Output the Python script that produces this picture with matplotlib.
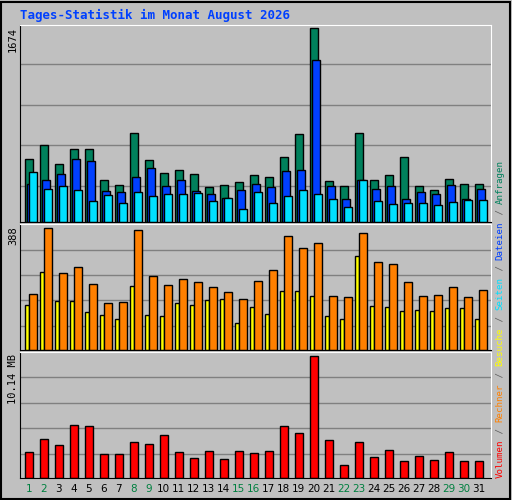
import numpy as np
import matplotlib.pyplot as plt

days = list(range(1, 32))
weekend = [1, 2, 8, 9, 15, 16, 22, 23, 29, 30]

anfragen = [540, 663, 497, 628, 628, 358, 320, 768, 532, 419, 445, 410, 306, 323, 349, 402, 384, 559, 760, 1674, 355, 311, 768, 363, 402, 559, 311, 276, 372, 329, 329]
dateien = [329, 363, 410, 541, 524, 268, 259, 390, 469, 311, 363, 268, 242, 207, 276, 329, 303, 443, 452, 1395, 311, 198, 363, 285, 311, 198, 259, 242, 320, 198, 285]
seiten = [433, 285, 311, 276, 180, 233, 163, 259, 224, 242, 242, 250, 180, 207, 111, 259, 163, 224, 276, 242, 198, 128, 363, 180, 154, 163, 163, 146, 172, 189, 189]
rechner = [178, 388, 246, 265, 210, 149, 152, 382, 236, 207, 227, 217, 201, 185, 162, 221, 256, 362, 326, 342, 172, 168, 372, 279, 275, 217, 172, 175, 201, 168, 190]
besuche = [142, 249, 155, 155, 120, 113, 100, 203, 113, 107, 149, 142, 158, 162, 87, 136, 116, 187, 187, 171, 107, 100, 298, 139, 136, 123, 126, 123, 133, 133, 100]
volumen = [2.15, 3.26, 2.75, 4.36, 4.28, 1.98, 1.98, 3.00, 2.83, 3.60, 2.15, 1.64, 2.24, 1.56, 2.24, 2.07, 2.24, 4.28, 3.77, 10.14, 3.17, 1.08, 3.00, 1.73, 2.32, 1.42, 1.84, 1.50, 2.15, 1.42, 1.42]

grid_top = [311, 661, 1010, 1359]
grid_mid = [77, 158, 239, 320]
grid_bot = [1.98, 4.11, 6.23, 8.36]

BG = '#c0c0c0'
W, H = 512, 500

fig = plt.figure(figsize=(5.12, 5.0), dpi=100, facecolor=BG)
fig.patches.append(plt.Rectangle((1 / W, 1 / H), 1 - 3 / W, 1 - 3 / H, transform=fig.transFigure,
                                 fill=False, edgecolor='black', lw=1.5))


def panel(y0, y1):
    ax = fig.add_axes([20 / W, 1 - y1 / H, 471 / W, (y1 - y0) / H])
    ax.set_facecolor(BG)
    ax.set_xlim(0.647, 0.647 + 471 / 15)
    ax.set_xticks([])
    ax.set_yticks([])
    for s in ax.spines.values():
        s.set_color('black')
    ax.spines['top'].set_color('white')
    ax.spines['right'].set_color('white')
    return ax


x = np.array(days, dtype=float)
wd = 0.49

ax1 = panel(25, 222)
ax1.set_ylim(0, 1674 * 1.015)
for g in grid_top:
    ax1.axhline(g, color='#808080', lw=1, zorder=0)
ax1.bar(x, anfragen, wd, align='edge', color='#00805c', edgecolor='black', lw=1)
ax1.bar(x + 0.13, dateien, wd, align='edge', color='#0040ff', edgecolor='black', lw=1)
ax1.bar(x + 0.27, seiten, wd, align='edge', color='#00e0ff', edgecolor='black', lw=1)

ax2 = panel(224, 350)
ax2.set_ylim(0, 388 * 1.035)
for g in grid_mid:
    ax2.axhline(g, color='#808080', lw=1, zorder=0)
ax2.bar(x, besuche, 0.27, align='edge', color='#ffff00', edgecolor='black', lw=1)
ax2.bar(x + 0.27, rechner, wd, align='edge', color='#ff8000', edgecolor='black', lw=1)

ax3 = panel(352, 478)
ax3.set_ylim(0, 10.14 * 1.03)
for g in grid_bot:
    ax3.axhline(g, color='#808080', lw=1, zorder=0)
ax3.bar(x, volumen, wd, align='edge', color='#ff0000', edgecolor='black', lw=1)

mono = 'DejaVu Sans Mono'
fig.text(20 / W, 1 - 15 / H, 'Tages-Statistik im Monat August 2026', color='#0040ff',
         fontsize=9, fontweight='bold', family=mono, va='center')
for lbl, ytop in [('1674', 27), ('388', 226), ('10.14 MB', 354)]:
    fig.text(13 / W, 1 - ytop / H, lbl, rotation=90, fontsize=7.5, family=mono, va='top', ha='center')

for d in days:
    fig.text((25.3 + 15 * (d - 1) + 3.5) / W, 1 - 489 / H, str(d), fontsize=7.5, ha='center', va='center',
             color='#008040' if d in weekend else 'black')

parts = [('Volumen', '#ff0000'), (' / ', '#606060'), ('Rechner', '#ff8000'), (' / ', '#606060'),
         ('Besuche', '#ffff00'), (' / ', '#606060'), ('Seiten', '#00e0ff'), (' / ', '#606060'),
         ('Dateien', '#0040ff'), (' / ', '#606060'), ('Anfragen', '#00805c')]
# one text per part, stacked upward with a fixed monospace advance
pos = 0
for txt, col in parts:
    fig.text(500 / W, 1 - (478 - 5.6 * pos) / H, txt, rotation=90, color=col, fontsize=6.6,
             family=mono, ha='center', va='bottom')
    pos += len(txt)

fig.savefig('out.png', dpi=100, facecolor=BG)
